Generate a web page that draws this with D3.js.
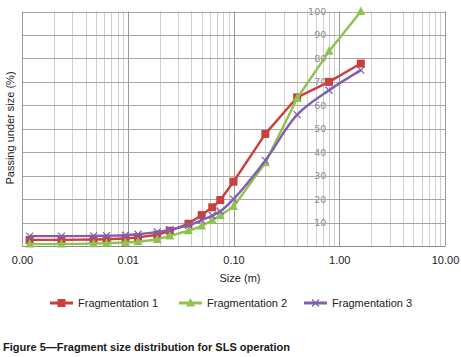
<!DOCTYPE html>
<html><head><meta charset="utf-8">
<script src="https://cdn.jsdelivr.net/npm/d3@7"></script>
<style>body{margin:0;background:#fff}svg{display:block}</style>
</head><body>
<svg id="c" width="461" height="357"></svg>
<script>
const sizes = [0.00118, 0.00236, 0.00475, 0.0063, 0.0095, 0.0125, 0.019, 0.025, 0.0375, 0.05, 0.063, 0.075, 0.1, 0.2, 0.4, 0.8, 1.6];
const frag1 = [2.6, 2.6, 2.8, 2.9, 3.2, 3.7, 4.8, 6.5, 9.5, 13.2, 16.5, 19.6, 27.4, 47.8, 63.4, 70.0, 77.8];
const frag2 = [0.8, 0.8, 1.0, 1.2, 1.5, 1.8, 2.8, 4.3, 6.5, 8.5, 11.0, 13.0, 16.8, 35.5, 63.0, 83.0, 100];
const frag3 = [4.2, 4.2, 4.3, 4.4, 4.6, 5.0, 6.0, 7.0, 8.8, 11.0, 13.0, 14.8, 20.0, 36.5, 56.0, 66.4, 75.0];
const seriesNames = ["Fragmentation 1", "Fragmentation 2", "Fragmentation 3"];
const xTicks = [0.001, 0.01, 0.1, 1, 10];
const yTicks = [10, 20, 30, 40, 50, 60, 70, 80, 90, 100];
const colors = ["#c9403c", "#8fc24f", "#7f5fb0"];

const svg = d3.select("#c");
const L = 22, R = 445, T = 11.5, B = 246;
const x = d3.scaleLog().domain([0.001, 10]).range([L, R]);
const y = d3.scaleLinear().domain([0, 100]).range([B, T]);

// minor vertical grid
const minor = [];
for (let d = 0.001; d < 10; d *= 10) for (let k = 2; k <= 9; k++) minor.push(d * k);
svg.append("g").selectAll("line").data(minor).join("line")
  .attr("x1", d => Math.round(x(d)) + 0.5).attr("x2", d => Math.round(x(d)) + 0.5)
  .attr("y1", T).attr("y2", B).attr("stroke", "#cfcfcf").attr("stroke-width", 1);

// y labels at x=1 axis
const yAxis = svg.append("g").attr("transform", `translate(${x(1)},0)`)
  .call(d3.axisLeft(y).tickValues(yTicks).tickSize(0).tickPadding(13).tickFormat(d3.format("d")));
yAxis.select(".domain").remove();
yAxis.selectAll("text").attr("fill", "#8a8a8a").attr("font-family", "DejaVu Sans").attr("font-size", 9.5);

// horizontal grid
svg.append("g").selectAll("line").data(yTicks).join("line")
  .attr("x1", L).attr("x2", R)
  .attr("y1", d => Math.round(y(d)) + 0.5).attr("y2", d => Math.round(y(d)) + 0.5)
  .attr("stroke", "#a6a6a6").attr("stroke-width", 1);

// major vertical grid
svg.append("g").selectAll("line").data(xTicks).join("line")
  .attr("x1", d => Math.round(x(d)) + 0.5).attr("x2", d => Math.round(x(d)) + 0.5)
  .attr("y1", T).attr("y2", B).attr("stroke", "#9a9a9a").attr("stroke-width", 1);

// x axis line
svg.append("line").attr("x1", L).attr("x2", R).attr("y1", Math.round(B)+0.5).attr("y2", Math.round(B)+0.5)
  .attr("stroke", "#8c8c8c");

// x axis labels
const xAxis = svg.append("g").attr("transform", `translate(0,${B})`)
  .call(d3.axisBottom(x).tickValues(xTicks).tickSize(0).tickPadding(10).tickFormat(d3.format(".2f")));
xAxis.select(".domain").remove();
xAxis.selectAll("text").attr("fill", "#222").attr("font-family", "Liberation Sans, Arial").attr("font-size", 11);

svg.append("text").attr("x", 240).attr("y", 282).attr("text-anchor", "middle")
  .attr("font-family", "Liberation Sans, Arial").attr("font-size", 11).attr("fill", "#222").text("Size (m)");
svg.append("text").attr("transform", "translate(14,128) rotate(-90)").attr("text-anchor", "middle")
  .attr("font-family", "Liberation Sans, Arial").attr("font-size", 11).attr("fill", "#222").text("Passing under size (%)");

const data = [frag1, frag2, frag3];
const curves = [d3.curveLinear, d3.curveLinear, d3.curveCatmullRom.alpha(0.5)];

function marker(g, i, cx, cy) {
  const c = colors[i];
  if (i === 0) g.append("rect").attr("x", cx - 4).attr("y", cy - 4).attr("width", 8).attr("height", 8).attr("fill", c);
  else if (i === 1) g.append("path").attr("d", `M${cx},${cy-5}L${cx+4.5},${cy+3.5}L${cx-4.5},${cy+3.5}Z`).attr("fill", c);
  else g.append("path").attr("d", `M${cx-3.5},${cy-3.5}L${cx+3.5},${cy+3.5}M${cx-3.5},${cy+3.5}L${cx+3.5},${cy-3.5}`)
        .attr("stroke", c).attr("stroke-width", 1.2).attr("fill", "none");
}

data.forEach((vals, i) => {
  const pts = sizes.map((s, j) => [s, vals[j]]);
  const line = d3.line().x(d => x(d[0])).y(d => y(d[1])).curve(curves[i]);
  const g = svg.append("g");
  g.append("path").attr("d", line(pts)).attr("fill", "none").attr("stroke", colors[i]).attr("stroke-width", 2.4)
    .attr("stroke-linejoin", "round");
  pts.forEach(p => marker(g, i, x(p[0]), y(p[1])));
});

// legend
const legX = [50, 179, 304];
seriesNames.forEach((n, i) => {
  const g = svg.append("g");
  g.append("line").attr("x1", legX[i]).attr("x2", legX[i] + 23).attr("y1", 303).attr("y2", 303)
    .attr("stroke", colors[i]).attr("stroke-width", 3);
  marker(g, i, legX[i] + 11.5, 303);
  g.append("text").attr("x", legX[i] + 28).attr("y", 307).attr("font-family", "Liberation Sans, Arial")
    .attr("font-size", 11).attr("fill", "#222").text(n);
});

svg.append("text").attr("x", 3).attr("y", 351).attr("font-family", "Liberation Sans, Arial").attr("font-weight", "bold")
  .attr("font-size", 11).attr("fill", "#1a1a1a").attr("textLength", 287).attr("lengthAdjust", "spacingAndGlyphs")
  .text("Figure 5—Fragment size distribution for SLS operation");
</script>
</body></html>
